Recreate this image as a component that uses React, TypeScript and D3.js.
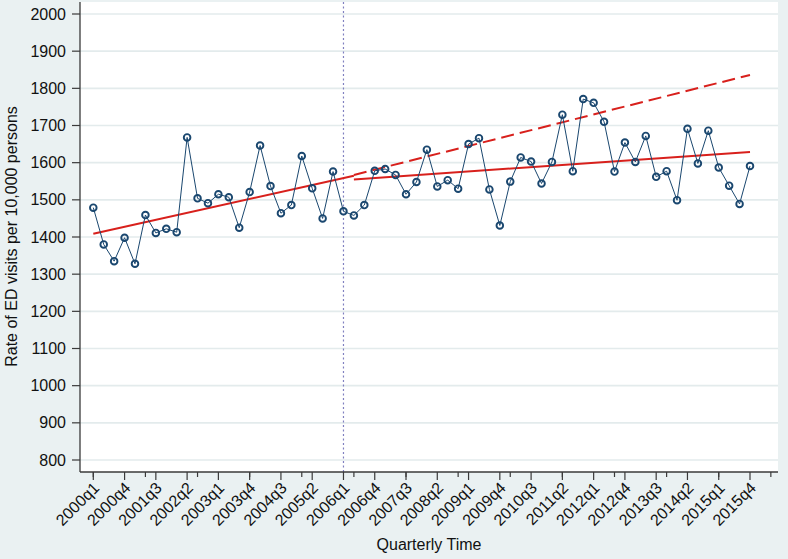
import React from "react";
import * as d3 from "d3";

const categories = [
  "2000q1","2000q2","2000q3","2000q4","2001q1","2001q2","2001q3","2001q4",
  "2002q1","2002q2","2002q3","2002q4","2003q1","2003q2","2003q3","2003q4",
  "2004q1","2004q2","2004q3","2004q4","2005q1","2005q2","2005q3","2005q4",
  "2006q1","2006q2","2006q3","2006q4","2007q1","2007q2","2007q3","2007q4",
  "2008q1","2008q2","2008q3","2008q4","2009q1","2009q2","2009q3","2009q4",
  "2010q1","2010q2","2010q3","2010q4","2011q1","2011q2","2011q3","2011q4",
  "2012q1","2012q2","2012q3","2012q4","2013q1","2013q2","2013q3","2013q4",
  "2014q1","2014q2","2014q3","2014q4","2015q1","2015q2","2015q3","2015q4",
];

const rates = [
  1479, 1380, 1335, 1398, 1328, 1459, 1411, 1422, 1413, 1668, 1504, 1491, 1515, 1507, 1425, 1521,
  1646, 1537, 1464, 1486, 1618, 1531, 1450, 1576, 1469, 1458, 1486, 1578, 1583, 1567, 1515, 1548,
  1635, 1536, 1553, 1530, 1650, 1666, 1528, 1431, 1549, 1614, 1603, 1544, 1602, 1729, 1577, 1771,
  1761, 1710, 1576, 1654, 1602, 1672, 1562, 1577, 1499, 1691, 1598, 1686, 1587, 1538, 1489, 1591,
];

const preTrend = [ { q: 0, v: 1409 }, { q: 25, v: 1565 } ];
const postTrend = [ { q: 25, v: 1555 }, { q: 63, v: 1629 } ];
const counterfactual = [ { q: 25, v: 1567 }, { q: 63, v: 1836 } ];

const interventionIndex = 24;
const yTicks = [800, 900, 1000, 1100, 1200, 1300, 1400, 1500, 1600, 1700, 1800, 1900, 2000];
const majorTickIdx = d3.range(0, 64, 3);
const minorTickIdx = d3.range(0, 66, 5);

const W = 788, H = 559;
const plotL = 80, plotR = 778, plotT = 2, plotB = 472;
const BG = "#eaf1f2";
const GRID = "#e3ebec";
const NAVY = "#1a476f";
const RED = "#d8201c";

export default function App() {
  const x = d3.scaleLinear().domain([0, 63]).range([93.3, 750]);
  const y = d3.scaleLinear().domain([800, 2000]).range([460, 14]);
  const line = d3.line<{ q: number; v: number }>().x(d => x(d.q)).y(d => y(d.v));
  const dataPts = rates.map((v, i) => ({ q: i, v }));
  const font = "'Liberation Sans', Arial, sans-serif";

  return (
    <>
      <style>{`body{margin:0}`}</style>
      <svg width={W} height={H} style={{ display: "block", fontFamily: font }}>
        <rect x={0} y={0} width={W} height={H} fill={BG} />
        <rect x={plotL} y={plotT} width={plotR - plotL} height={plotB - plotT} fill="#ffffff" />
        {yTicks.map(t => (
          <line key={"g" + t} x1={plotL} x2={plotR} y1={y(t)} y2={y(t)} stroke={GRID} strokeWidth={1.6} />
        ))}
        <line x1={x(interventionIndex)} x2={x(interventionIndex)} y1={plotT} y2={plotB}
          stroke="#8080c0" strokeWidth={1.2} strokeDasharray="2,2.5" />
        <path d={line(preTrend) || ""} fill="none" stroke={RED} strokeWidth={2} />
        <path d={line(postTrend) || ""} fill="none" stroke={RED} strokeWidth={2} />
        <path d={line(counterfactual) || ""} fill="none" stroke={RED} strokeWidth={2} strokeDasharray="13,6" />
        <path d={line(dataPts) || ""} fill="none" stroke={NAVY} strokeWidth={1} />
        {dataPts.map(d => (
          <circle key={d.q} cx={x(d.q)} cy={y(d.v)} r={3.3} fill="none" stroke={NAVY} strokeWidth={1.9} />
        ))}
        {/* axes */}
        <line x1={plotL} x2={plotL} y1={plotT} y2={plotB} stroke="#3a3a3a" strokeWidth={1.3} />
        <line x1={plotL} x2={plotR} y1={plotB} y2={plotB} stroke="#3a3a3a" strokeWidth={1.3} />
        {yTicks.map(t => (
          <g key={"yt" + t}>
            <line x1={plotL - 8} x2={plotL} y1={y(t)} y2={y(t)} stroke="#3a3a3a" strokeWidth={1.2} />
            <text x={66} y={y(t)} dy="0.35em" textAnchor="end" fontSize={16} fill="#111">{t}</text>
          </g>
        ))}
        {minorTickIdx.map(i => (
          <line key={"mt" + i} x1={x(i)} x2={x(i)} y1={plotB} y2={plotB + 5} stroke="#3a3a3a" strokeWidth={1.2} />
        ))}
        {majorTickIdx.map(i => (
          <g key={"xt" + i}>
            <line x1={x(i)} x2={x(i)} y1={plotB} y2={plotB + 8} stroke="#3a3a3a" strokeWidth={1.2} />
            <text transform={`translate(${x(i) + 3},${plotB + 13}) rotate(-45)`} dy="0.35em"
              textAnchor="end" fontSize={16} fill="#111">{categories[i]}</text>
          </g>
        ))}
        <text transform={`translate(17,236.5) rotate(-90)`} textAnchor="middle" fontSize={16} fill="#111">
          Rate of ED visits per 10,000 persons
        </text>
        <text x={(plotL + plotR) / 2} y={550} textAnchor="middle" fontSize={16} fill="#111">Quarterly Time</text>
      </svg>
    </>
  );
}
